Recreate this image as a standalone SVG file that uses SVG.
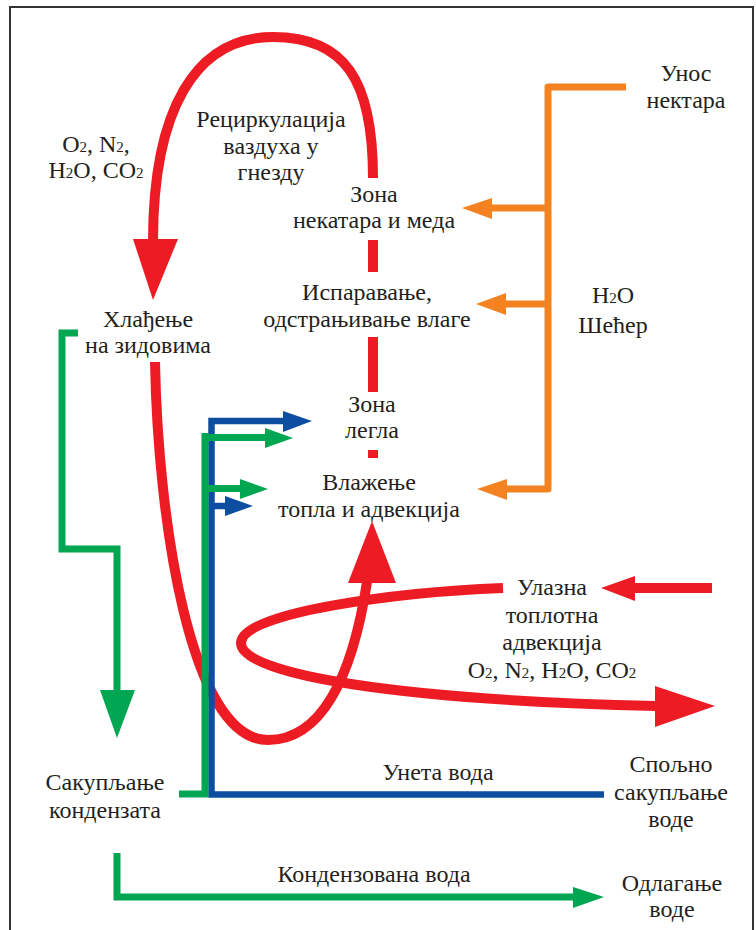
<svg xmlns="http://www.w3.org/2000/svg" width="756" height="930" viewBox="0 0 756 930">
<style>
text{font-family:"Liberation Serif","DejaVu Serif",serif;font-size:24px;fill:#231f20;text-anchor:middle}
.s{font-size:15px}
.r{fill:none;stroke:#ed1c24;stroke-width:10}
.rf{fill:#ed1c24}
.o{fill:none;stroke:#f48220;stroke-width:7;stroke-linejoin:round}
.of{fill:#f48220}
.g{fill:none;stroke:#00a651;stroke-width:7}
.gf{fill:#00a651}
.b{fill:none;stroke:#0d4ea1;stroke-width:6.5}
.bf{fill:#0d4ea1}
</style>
<rect x="0" y="0" width="756" height="930" fill="#fff"/>
<path d="M10,930 V7 H753 V930" fill="none" stroke="#333" stroke-width="2"/>
<g id="connectors">
<!-- red recirculation -->
<path class="r" d="M373,178 C373,80 345,37 273,37 C195,37 153,110 153,242"/>
<polygon class="rf" points="133,239 178,239 153,300"/>
<path class="r" d="M373,240 V272 M373,337 V392 M373,450 V458"/>
<path class="r" stroke-width="9" d="M155,362 C158,520 190,740 268,740 C320,740 352,680 367,582"/>
<polygon class="rf" points="348,583 396,583 372,521"/>
<path class="r" stroke-width="9" d="M503,588 C400,592 241,612 241,643 C241,675 400,700 656,706"/>
<polygon class="rf" points="655,686 655,727 715,706"/>
<path class="r" stroke-width="8" d="M712,588 H633"/>
<polygon class="rf" points="635,576 635,601 601,588"/>
<!-- orange -->
<path class="o" d="M626,87 H548 V489 H505"/>
<path class="o" d="M548,208 H490 M548,304 H505"/>
<polygon class="of" points="492,198 492,219 462,208"/>
<polygon class="of" points="506,293 506,315 476,304"/>
<polygon class="of" points="507,479 507,500 477,489"/>
<!-- green left -->
<path class="g" d="M78,333 H62 V549 H117 V692"/>
<polygon class="gf" points="100,690 135,690 117,738"/>
<!-- blue -->
<path class="b" d="M285,421 H211.5 V794.5 H604"/>
<path class="b" d="M211.5,506 H228"/>
<polygon class="bf" points="283,411 283,432 312,421"/>
<polygon class="bf" points="225,496 225,516 253,506"/>
<!-- green collect -->
<path class="g" stroke-width="6" d="M179,794 H205 V433"/>
<path class="g" d="M205,437.5 H267 M205,488.5 H242"/>
<polygon class="gf" points="265,428 265,448 293,438"/>
<polygon class="gf" points="240,479 240,499 268,489"/>
<path class="g" d="M117,853 V897 H575"/>
<polygon class="gf" points="573,887 573,908 604,897"/>
</g>
<g id="recirc-label"><text x="271" y="127">Рециркулација</text><text x="271" y="154">ваздуха у</text><text x="271" y="180">гнезду</text></g>
<g id="gases-top"><text x="96" y="152">O<tspan class="s">2</tspan>, N<tspan class="s">2</tspan>,</text><text x="96" y="178">H<tspan class="s">2</tspan>O, CO<tspan class="s">2</tspan></text></g>
<g id="zone-nectar"><text x="374" y="202">Зона</text><text x="374" y="228">некатара и меда</text></g>
<g id="evaporation"><text x="367" y="300">Испаравање,</text><text x="367" y="327">одстрањивање влаге</text></g>
<g id="zone-brood"><text x="372" y="412">Зона</text><text x="372" y="438">легла</text></g>
<g id="humid"><text x="369" y="490">Влажење</text><text x="369" y="517">топла и адвекција</text></g>
<g id="nectar-in"><text x="686" y="81">Унос</text><text x="686" y="108">нектара</text></g>
<g id="h2o-sugar"><text x="613" y="303">H<tspan class="s">2</tspan>O</text><text x="613" y="333">Шећер</text></g>
<g id="cooling"><text x="148" y="327">Хлађење</text><text x="148" y="353">на зидовима</text></g>
<g id="collect"><text x="105" y="790">Сакупљање</text><text x="105" y="818">кондензата</text></g>
<g id="cond-water"><text x="374" y="882">Кондензована вода</text></g>
<g id="water-in"><text x="438" y="780">Унета вода</text></g>
<g id="ext-collect"><text x="671" y="772">Спољно</text><text x="671" y="800">сакупљање</text><text x="671" y="827">воде</text></g>
<g id="disposal"><text x="672" y="891">Одлагање</text><text x="672" y="917">воде</text></g>
<g id="inflow"><text x="552" y="595">Улазна</text><text x="552" y="623">топлотна</text><text x="552" y="650">адвекција</text><text x="552" y="678">O<tspan class="s">2</tspan>, N<tspan class="s">2</tspan>, H<tspan class="s">2</tspan>O, CO<tspan class="s">2</tspan></text></g>
</svg>
